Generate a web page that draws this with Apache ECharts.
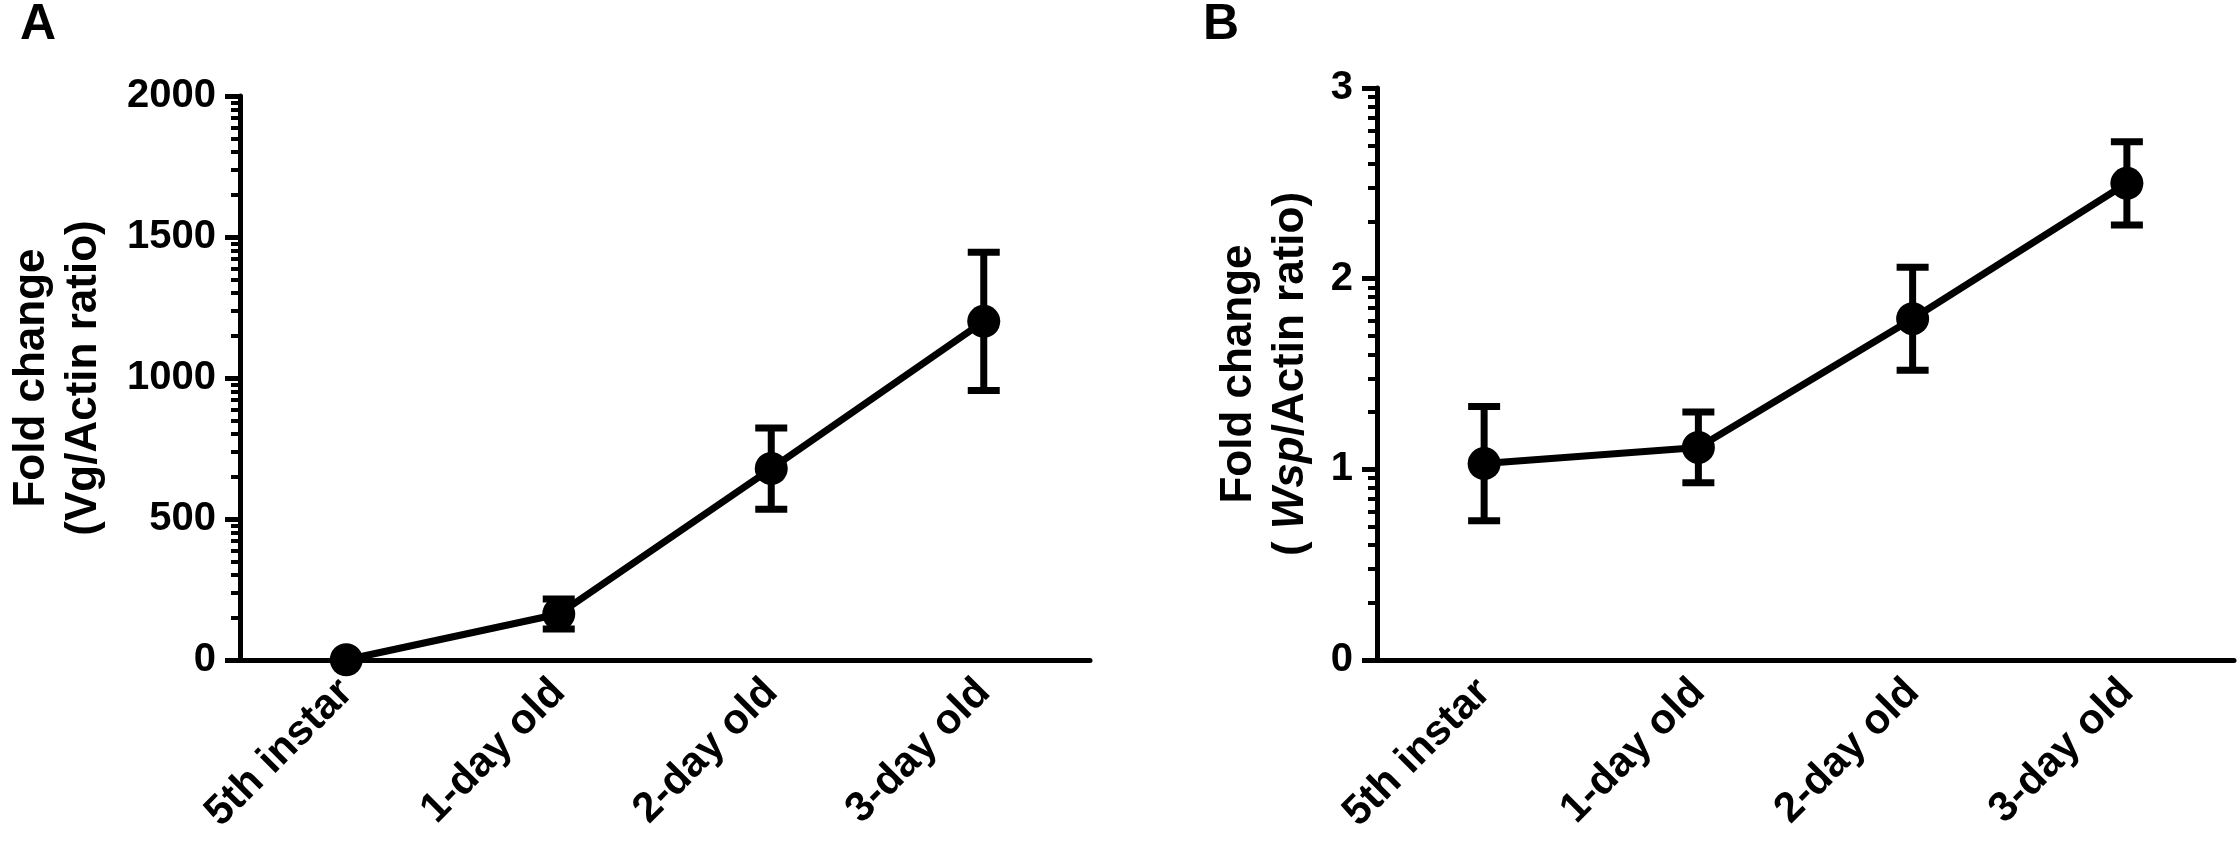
<!DOCTYPE html>
<html>
<head>
<meta charset="utf-8">
<title>Fold change</title>
<script src="https://cdn.jsdelivr.net/npm/echarts@6/dist/echarts.min.js"></script>
<style>
    html, body { margin: 0; padding: 0; background: #fff; }
    #chart { width: 2238px; height: 845px; }
</style>
</head>
<body>
<div id="chart"></div>
<script>
var stages = ['5th instar', '1-day old', '2-day old', '3-day old'];

// panel A: Vg
var vgMean = [1, 163, 679, 1201];
var vgSem = [0, 53, 144, 245];
var vgTicks = [0, 500, 1000, 1500, 2000];

// panel B: Wsp
var wspMean = [1.03, 1.115, 1.79, 2.50];
var wspSem = [0.30, 0.186, 0.27, 0.218];
var wspTicks = [0, 1, 2, 3];

var font = 'Liberation Sans, Arial, Helvetica, sans-serif';

// GraphPad style minor ticks, log spaced inside each major step
function minorTicks(ticks) {
    var out = [];
    for (var i = 0; i < ticks.length - 1; i++) {
        var step = ticks[i + 1] - ticks[i];
        for (var k = 2; k <= 9; k++) {
            out.push(ticks[i] + step * Math.log10(k));
        }
    }
    return out;
}

function errData(mean, sem) {
    var d = [];
    for (var i = 0; i < mean.length; i++) {
        d.push([i, mean[i], sem[i]]);
    }
    return d;
}

function renderErr(params, api) {
    var x = api.value(0);
    var y = api.value(1);
    var e = api.value(2);
    if (!e) return;
    var top = api.coord([x, y + e]);
    var bot = api.coord([x, y - e]);
    var hw = 16;
    var st = { stroke: '#000', lineWidth: 7 };
    return {
        type: 'group',
        children: [
            { type: 'line', shape: { x1: top[0], y1: top[1], x2: bot[0], y2: bot[1] }, style: st },
            { type: 'line', shape: { x1: top[0] - hw, y1: top[1], x2: top[0] + hw, y2: top[1] }, style: st },
            { type: 'line', shape: { x1: bot[0] - hw, y1: bot[1], x2: bot[0] + hw, y2: bot[1] }, style: st }
        ]
    };
}

function xAxis(grid) {
    return {
        type: 'category',
        gridIndex: grid,
        data: stages,
        boundaryGap: true,
        axisLine: { lineStyle: { color: '#000', width: 5 } },
        axisTick: { alignWithLabel: true, length: 15, lineStyle: { color: '#000', width: 5 } },
        axisLabel: {
            interval: 0, rotate: 45, margin: 26,
            color: '#000', fontSize: 42, fontWeight: 'bold', fontFamily: font
        }
    };
}

function yAxis(grid, ticks, name, gap) {
    return {
        type: 'value',
        gridIndex: grid,
        position: 'left',
        min: ticks[0],
        max: ticks[ticks.length - 1],
        interval: ticks[1] - ticks[0],
        name: name,
        nameLocation: 'middle',
        nameRotate: 90,
        nameGap: gap,
        nameTextStyle: {
            color: '#000', fontSize: 44, fontWeight: 'bold', fontFamily: font, lineHeight: 52,
            rich: {
                i: { color: '#000', fontSize: 44, fontWeight: 'bold', fontStyle: 'italic', fontFamily: font, lineHeight: 52 }
            }
        },
        splitLine: { show: false },
        axisLine: { show: true, lineStyle: { color: '#000', width: 5 } },
        axisTick: { show: true, length: 15, lineStyle: { color: '#000', width: 5 } },
        axisLabel: {
            margin: 24, color: '#000', fontSize: 40, fontWeight: 'bold', fontFamily: font,
            formatter: function (v) { return String(v); }
        }
    };
}

// second axis in the same grid only carries the minor ticks;
// it sits on the right and is shifted back onto the left axis line
function minorAxis(grid, ticks, width) {
    return {
        type: 'value',
        gridIndex: grid,
        position: 'right',
        offset: -width,
        min: ticks[0],
        max: ticks[ticks.length - 1],
        splitLine: { show: false },
        axisLine: { show: true, lineStyle: { color: '#000', width: 0, opacity: 0 } },
        axisLabel: { show: false },
        axisTick: {
            show: true, inside: true, length: 9,
            customValues: minorTicks(ticks),
            lineStyle: { color: '#000', width: 4 }
        }
    };
}

function lineSeries(x, y, data) {
    return {
        type: 'line',
        xAxisIndex: x,
        yAxisIndex: y,
        data: data,
        symbol: 'circle',
        symbolSize: 33,
        lineStyle: { color: '#000', width: 7 },
        itemStyle: { color: '#000' },
        z: 3
    };
}

function errSeries(x, y, mean, sem) {
    return {
        type: 'custom',
        xAxisIndex: x,
        yAxisIndex: y,
        data: errData(mean, sem),
        renderItem: renderErr,
        z: 2
    };
}

var myChart = echarts.init(document.getElementById('chart'));
var option = {
    backgroundColor: '#fff',
    animation: false,
    title: [
        { text: 'A', left: 20, top: 0, padding: 0, textStyle: { color: '#000', fontSize: 50, fontWeight: 'bold', fontFamily: font } },
        { text: 'B', left: 1203, top: 0, padding: 0, textStyle: { color: '#000', fontSize: 50, fontWeight: 'bold', fontFamily: font } }
    ],
    grid: [
        { left: 240, right: 1148, top: 96, bottom: 185 },
        { left: 1377, right: 4, top: 88, bottom: 185 }
    ],
    xAxis: [xAxis(0), xAxis(1)],
    yAxis: [
        yAxis(0, vgTicks, 'Fold change\n(Vg/Actin ratio)', 130),
        minorAxis(0, vgTicks, 850),
        yAxis(1, wspTicks, 'Fold change\n( {i|Wsp}/Actin ratio)', 60),
        minorAxis(1, wspTicks, 857)
    ],
    series: [
        errSeries(0, 0, vgMean, vgSem),
        lineSeries(0, 0, vgMean),
        errSeries(1, 2, wspMean, wspSem),
        lineSeries(1, 2, wspMean)
    ]
};
myChart.setOption(option);
</script>
</body>
</html>
